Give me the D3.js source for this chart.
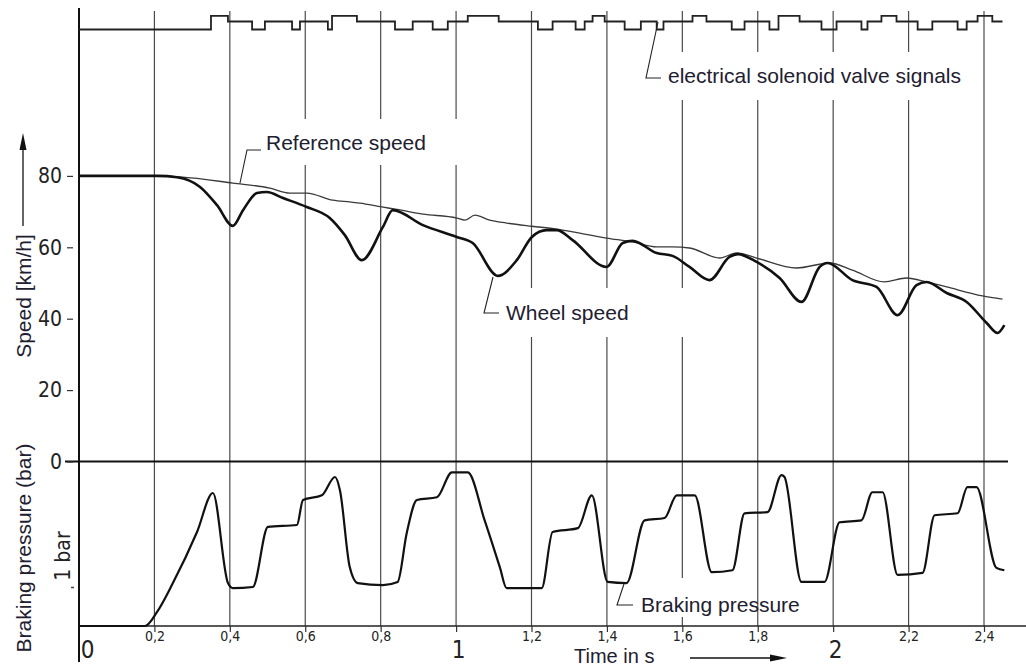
<!DOCTYPE html>
<html>
<head>
<meta charset="utf-8">
<script src="https://cdn.jsdelivr.net/npm/d3@7"></script>
<style>
  html, body { margin: 0; padding: 0; background: #fff; }
  svg { display: block; }
  .ann { font-family: "Liberation Sans", Arial, sans-serif; font-size: 21px; fill: #1e2030; }
  .num { font-family: "DejaVu Sans Condensed", "DejaVu Sans", sans-serif; font-stretch: condensed; fill: #222; }
</style>
</head>
<body>
<svg id="chart" width="1026" height="666"></svg>
<script>
// ---------------- data ----------------
const wheelT = [0, 0.207, 0.26, 0.321, 0.366, 0.408, 0.435, 0.472, 0.498, 0.541, 0.604, 0.665, 0.705, 0.750, 0.806, 0.832, 0.912, 1.002, 1.044, 1.111, 1.161, 1.201, 1.240, 1.267, 1.309, 1.399, 1.442, 1.468, 1.532, 1.574, 1.619, 1.672, 1.725, 1.747, 1.797, 1.858, 1.916, 1.964, 1.985, 2.051, 2.115, 2.171, 2.221, 2.248, 2.301, 2.354, 2.407, 2.436, 2.454];
const wheelV = [80, 80, 79.6, 76.9, 71.8, 66.0, 70.4, 75.2, 75.5, 73.8, 71.3, 68.2, 63.4, 56.4, 65.7, 70.4, 66.2, 62.9, 61.2, 52.0, 56.4, 62.9, 64.8, 64.8, 62.0, 54.5, 61.2, 61.8, 58.4, 57.6, 54.5, 50.8, 57.3, 58.1, 55.9, 51.4, 44.7, 54.5, 55.6, 50.8, 48.9, 41.0, 49.4, 50.3, 47.2, 44.7, 38.8, 36.0, 38.2];

const refT = [0, 0.207, 0.268, 0.408, 0.506, 0.559, 0.604, 0.673, 0.718, 0.745, 0.803, 0.843, 0.912, 1.002, 1.023, 1.050, 1.089, 1.134, 1.201, 1.267, 1.309, 1.399, 1.468, 1.532, 1.574, 1.619, 1.699, 1.744, 1.797, 1.903, 1.990, 2.051, 2.136, 2.195, 2.248, 2.301, 2.396, 2.449];
const refV = [80, 80, 79.7, 78.0, 76.6, 75.2, 75.2, 73.2, 72.7, 72.4, 71.3, 70.6, 69.3, 68.2, 67.6, 69.0, 67.6, 66.8, 65.9, 65.1, 64.3, 62.6, 61.5, 60.1, 60.1, 59.8, 57.0, 58.4, 57.0, 54.2, 55.6, 53.6, 50.3, 51.4, 50.3, 48.9, 46.4, 45.5];

const pressT = [0, 0.175, 0.207, 0.249, 0.313, 0.355, 0.395, 0.408, 0.461, 0.501, 0.578, 0.594, 0.644, 0.679, 0.692, 0.718, 0.739, 0.806, 0.845, 0.869, 0.896, 0.949, 0.989, 1.031, 1.076, 1.116, 1.134, 1.227, 1.256, 1.323, 1.360, 1.402, 1.452, 1.500, 1.553, 1.585, 1.633, 1.678, 1.733, 1.765, 1.826, 1.863, 1.871, 1.916, 1.977, 2.017, 2.075, 2.104, 2.131, 2.171, 2.237, 2.269, 2.330, 2.356, 2.380, 2.433, 2.454];
const pressP = [0, 0, 0.36, 1.10, 2.41, 3.41, 1.10, 0.97, 1.00, 2.54, 2.59, 3.23, 3.35, 3.82, 3.48, 1.51, 1.10, 1.05, 1.13, 2.38, 3.23, 3.30, 3.94, 3.94, 2.70, 1.51, 0.97, 0.97, 2.41, 2.51, 3.35, 1.13, 1.10, 2.71, 2.77, 3.35, 3.35, 1.38, 1.43, 2.89, 2.92, 3.87, 3.82, 1.13, 1.13, 2.66, 2.71, 3.43, 3.43, 1.31, 1.36, 2.84, 2.89, 3.56, 3.56, 1.49, 1.43];

const valveT = [0, 0.350, 0.395, 0.459, 0.493, 0.565, 0.586, 0.660, 0.671, 0.737, 0.838, 0.885, 0.938, 0.978, 1.031, 1.113, 1.217, 1.256, 1.317, 1.341, 1.362, 1.394, 1.447, 1.490, 1.532, 1.550, 1.627, 1.664, 1.731, 1.765, 1.831, 1.855, 1.911, 1.969, 2.009, 2.075, 2.091, 2.128, 2.168, 2.224, 2.263, 2.330, 2.354, 2.383, 2.422, 2.449];
const valveL = [0, 2, 1, 0, 1, 0, 1, 0, 2, 1, 0, 1, 0, 1, 2, 1, 0, 1, 0, 1, 2, 1, 0, 1, 0, 1, 2, 1, 0, 1, 0, 2, 1, 0, 1, 0, 1, 2, 1, 0, 1, 0, 1, 2, 1, 1];

const gridTicks = [0.2, 0.4, 0.6, 0.8, 1.0, 1.2, 1.4, 1.6, 1.8, 2.0, 2.2, 2.4];
const smallTickLabels = [0.2, 0.4, 0.6, 0.8, 1.2, 1.4, 1.6, 1.8, 2.2, 2.4];
const bigTicks = [0, 1, 2];
const speedTicks = [0, 20, 40, 60, 80];
const pressTicks = [1];

const labelSpeedAxis = "Speed [km/h]";
const labelPressAxis = "Braking pressure (bar)";
const labelTime = "Time in s";
const labelRef = "Reference speed";
const labelWheel = "Wheel speed";
const labelPress = "Braking pressure";
const labelValve = "electrical solenoid valve signals";
const labelBar = "1 bar";

// ---------------- scales ----------------
const svg = d3.select("#chart");
svg.append("rect").attr("width", 1026).attr("height", 666).attr("fill", "#fff");

const x = d3.scaleLinear().domain([0, 2.4]).range([79, 984]);
const yS = d3.scaleLinear().domain([0, 80]).range([461.5, 175.9]);
const yP = d3.scaleLinear().domain([0, 1]).range([626, 587]);
const yV = d3.scaleLinear().domain([0, 1, 2]).range([29.5, 21.5, 15.8]);

const comma = d3.formatLocale({decimal: ",", thousands: ".", grouping: [3], currency: ["", ""]}).format(".1f");

// ---------------- grid lines ----------------
const grid = svg.append("g");
grid.selectAll("line").data(gridTicks).join("line")
  .attr("x1", d => x(d)).attr("x2", d => x(d))
  .attr("y1", 11).attr("y2", 626)
  .attr("stroke", "#4a4a4a").attr("stroke-width", 1.2);

// white gaps behind labels (as in the original drawing)
const gaps = svg.append("g").attr("fill", "#fff");
gaps.append("rect").attr("x", 262).attr("y", 119).attr("width", 200).attr("height", 46);
gaps.append("rect").attr("x", 664).attr("y", 52).attr("width", 308).attr("height", 48);
gaps.append("rect").attr("x", 500).attr("y", 288).attr("width", 192).attr("height", 49);
gaps.append("rect").attr("x", 672).attr("y", 578).attr("width", 20).attr("height", 39);

// ---------------- axes ----------------
svg.append("line").attr("x1", 79).attr("x2", 79).attr("y1", 8).attr("y2", 662)
  .attr("stroke", "#111").attr("stroke-width", 2);
svg.append("line").attr("x1", 65).attr("x2", 1008).attr("y1", yS(0)).attr("y2", yS(0))
  .attr("stroke", "#111").attr("stroke-width", 2.2);
svg.append("line").attr("x1", 79).attr("x2", 1026).attr("y1", 626).attr("y2", 626)
  .attr("stroke", "#222").attr("stroke-width", 1.6);

// speed axis
const sAxis = svg.append("g").attr("transform", "translate(73,0)")
  .call(d3.axisLeft(yS).tickValues(speedTicks).tickSize(6).tickPadding(5).tickFormat(d3.format("d")));
sAxis.select(".domain").remove();
sAxis.selectAll("line").attr("stroke", "#333").attr("stroke-width", 1.2);
sAxis.selectAll("text").attr("class", "num").style("font-size", "21px").attr("fill", "#222");

// pressure "1 bar" tick
const pAxis = svg.append("g").attr("transform", "translate(74,0)")
  .call(d3.axisLeft(yP).tickValues(pressTicks).tickSize(3).tickFormat(""));
pAxis.select(".domain").remove();
pAxis.selectAll("line").attr("stroke", "#444").attr("stroke-width", 1.5);
svg.append("text").attr("class", "num").style("font-size", "21px")
  .attr("text-anchor", "middle")
  .attr("transform", `translate(70,${yP(1) - 31}) rotate(-90)`)
  .text(labelBar);

// bottom tick marks (all grid positions)
const tMarks = svg.append("g").attr("transform", "translate(0,626)")
  .call(d3.axisBottom(x).tickValues(gridTicks).tickSize(6).tickFormat(""));
tMarks.select(".domain").remove();
tMarks.selectAll("line").attr("stroke", "#333").attr("stroke-width", 1.2);

// small decimal labels
const tAxis = svg.append("g").attr("transform", "translate(0,626)")
  .call(d3.axisBottom(x).tickValues(smallTickLabels).tickSize(5).tickPadding(0).tickFormat(comma));
tAxis.select(".domain").remove();
tAxis.selectAll("line").remove();
tAxis.selectAll("text").attr("class", "num").style("font-size", "14px").attr("fill", "#333");

// big ticks 0, 1, 2
const bAxis = svg.append("g").attr("transform", "translate(0,626)")
  .call(d3.axisBottom(x).tickValues(bigTicks).tickSize(0).tickPadding(15).tickFormat(d3.format("d")));
bAxis.select(".domain").remove();
bAxis.selectAll("text").attr("class", "num").style("font-size", "24px").attr("fill", "#222")
  .attr("dx", d => d === 0 ? 8 : 2);

// ---------------- series ----------------
const lineS = d3.line().x(d => x(d[0])).y(d => yS(d[1])).curve(d3.curveMonotoneX);
const lineP = d3.line().x(d => x(d[0])).y(d => yP(d[1])).curve(d3.curveMonotoneX);
const lineV = d3.line().x(d => x(d[0])).y(d => yV(d[1])).curve(d3.curveStepAfter);

svg.append("path").datum(valveT.map((t, i) => [t, valveL[i]]))
  .attr("d", lineV).attr("fill", "none").attr("stroke", "#222").attr("stroke-width", 1.8);

svg.append("path").datum(refT.map((t, i) => [t, refV[i]]))
  .attr("d", lineS).attr("fill", "none").attr("stroke", "#3a3a3a").attr("stroke-width", 1.3);

svg.append("path").datum(wheelT.map((t, i) => [t, wheelV[i]]))
  .attr("d", lineS).attr("fill", "none").attr("stroke", "#111").attr("stroke-width", 2.6)
  .attr("stroke-linejoin", "round");

svg.append("path").datum(pressT.map((t, i) => [t, pressP[i]]))
  .attr("d", lineP).attr("fill", "none").attr("stroke", "#111").attr("stroke-width", 2.2)
  .attr("stroke-linejoin", "round");

// ---------------- annotations ----------------
const lead = svg.append("g").attr("fill", "none").attr("stroke", "#222").attr("stroke-width", 1.1);
lead.append("polyline").attr("points", "240,183 247,150 261,150");
lead.append("polyline").attr("points", "658,22 646,78 661,78");
lead.append("polyline").attr("points", "493,277 484,313 499,313");
lead.append("polyline").attr("points", "624,584 617,605 633,605");

svg.append("text").attr("class", "ann").attr("x", 266).attr("y", 150).text(labelRef);
svg.append("text").attr("class", "ann").attr("x", 668).attr("y", 83).text(labelValve);
svg.append("text").attr("class", "ann").attr("x", 506).attr("y", 320).text(labelWheel);
svg.append("text").attr("class", "ann").attr("x", 641).attr("y", 612).text(labelPress);
svg.append("text").attr("class", "ann").style("font-size", "20px").attr("x", 574).attr("y", 663).text(labelTime);

// axis titles
svg.append("text").attr("class", "ann").attr("text-anchor", "middle")
  .attr("transform", "translate(31,296) rotate(-90)").text(labelSpeedAxis);
svg.append("text").attr("class", "ann").attr("text-anchor", "middle")
  .attr("transform", "translate(31,548) rotate(-90)").text(labelPressAxis);

// arrows
const arr = svg.append("g").attr("stroke", "#111").attr("fill", "#111");
arr.append("line").attr("x1", 23).attr("x2", 23).attr("y1", 226).attr("y2", 145).attr("stroke-width", 1.3);
arr.append("path").attr("d", "M23,133 L19.5,150 L26.5,150 Z").attr("stroke", "none");
arr.append("line").attr("x1", 690).attr("x2", 772).attr("y1", 658).attr("y2", 658).attr("stroke-width", 1.6);
arr.append("path").attr("d", "M787,658 L770,654.5 L770,661.5 Z").attr("stroke", "none");
</script>
</body>
</html>
